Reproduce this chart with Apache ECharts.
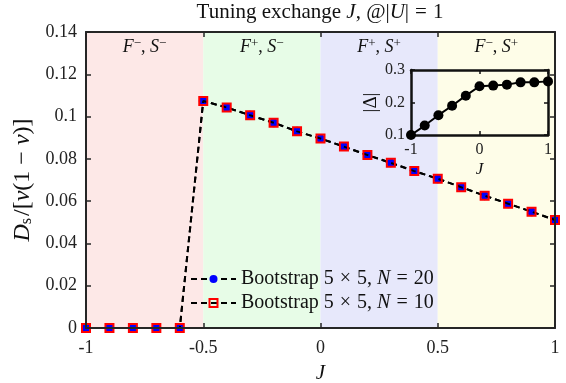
<!DOCTYPE html>
<html><head><meta charset="utf-8">
<script src="https://cdn.jsdelivr.net/npm/echarts@6/dist/echarts.min.js"></script>
<style>html,body{margin:0;padding:0;background:#fff}#c{width:566px;height:383px}</style>
</head><body><div id="c"></div>
<script>
// ---- data ----
const J = [-1,-0.9,-0.8,-0.7,-0.6,-0.5,-0.4,-0.3,-0.2,-0.1,0,0.1,0.2,0.3,0.4,0.5,0.6,0.7,0.8,0.9,1];
const Ds_N20 = [0,0,0,0,0,0.1074,0.1043,0.1006,0.0971,0.0930,0.0896,0.0858,0.0818,0.0781,0.0742,0.0706,0.0666,0.0626,0.0588,0.0550,0.0511];
const Ds_N10 = [0,0,0,0,0,0.1074,0.1043,0.1006,0.0971,0.0930,0.0896,0.0858,0.0818,0.0781,0.0742,0.0706,0.0666,0.0626,0.0588,0.0550,0.0511];
const J_inset = [-1,-0.8,-0.6,-0.4,-0.2,0,0.2,0.4,0.6,0.8,1];
const gap_inset = [0.100,0.129,0.161,0.190,0.221,0.250,0.252,0.255,0.262,0.262,0.265];
const bands = [
  {from:-1, to:-0.5, label:'{i|F}{s|−}{n|, }{i|S}{s|−}', color:'#fde8e7'},
  {from:-0.5, to:0, label:'{i|F}{s|+}{n|, }{i|S}{s|−}', color:'#e7fce7'},
  {from:0, to:0.5, label:'{i|F}{s|+}{n|, }{i|S}{s|+}', color:'#e7e8fb'},
  {from:0.5, to:1, label:'{i|F}{s|−}{n|, }{i|S}{s|+}', color:'#fefde8'}
];
const seriesNames = ['Bootstrap 5 × 5, N = 20', 'Bootstrap 5 × 5, N = 10'];
const legendText = ['{n|Bootstrap 5}{op|×}{n|5, }{i|N}{op|=}{n|20}', '{n|Bootstrap 5}{op|×}{n|5, }{i|N}{op|=}{n|10}'];

const FF = '"Liberation Serif", "DejaVu Serif", serif';
const AX = '#262626';
const pair = (xs, ys) => xs.map((x, i) => [x, ys[i]]);

function axisCommon(extra) {
  return Object.assign({
    type: 'value', z: 10,
    axisLine: {show: true, onZero: false, lineStyle: {color: AX, width: 2}},
    axisTick: {show: true, inside: true, length: 5, lineStyle: {color: AX, width: 1.5}},
    splitLine: {show: false},
    axisLabel: {color: '#222', fontFamily: FF, fontSize: 18}
  }, extra);
}
const insetLine = {show: true, onZero: false, lineStyle: {color: '#111', width: 2.5}};
const insetTick = {show: true, inside: true, length: 4, lineStyle: {color: '#111', width: 1.5}};

const chart = echarts.init(document.getElementById('c'), null, {renderer: 'canvas'});
chart.setOption({
  animation: false,
  textStyle: {fontFamily: FF},
  title: {
    text: '{n|Tuning exchange }{i|J}{n|, @|}{i|U}{n||}{op|=}{n|1}',
    left: 320, top: 2, padding: 0, textAlign: 'center',
    textStyle: {fontWeight: 'normal', rich: {
      n: {fontFamily: FF, fontSize: 21, fontWeight: 'normal', color: '#111'},
      i: {fontFamily: FF, fontSize: 21, fontWeight: 'normal', fontStyle: 'italic', color: '#111'},
      op: {fontFamily: FF, fontSize: 21, fontWeight: 'normal', color: '#111', padding: [0, 6, 0, 6]}
    }}
  },
  grid: [
    {left: 86, right: 11, top: 32, bottom: 55, outerBoundsMode: 'none', containLabel: false},
    {left: 411, right: 18, top: 70, height: 65, outerBoundsMode: 'none', containLabel: false}
  ],
  xAxis: [
    axisCommon({gridIndex: 0, min: -1, max: 1, interval: 0.5, position: 'bottom',
      axisLabel: {color: '#222', fontFamily: FF, fontSize: 18, margin: 11},
      name: 'J', nameLocation: 'middle', nameGap: 35,
      nameTextStyle: {fontFamily: FF, fontSize: 21, fontStyle: 'italic', color: '#111'}}),
    axisCommon({gridIndex: 0, min: -1, max: 1, interval: 0.5, position: 'top', axisLabel: {show: false}}),
    axisCommon({gridIndex: 1, min: -1, max: 1, interval: 1, position: 'bottom',
      axisLine: insetLine, axisTick: insetTick,
      axisLabel: {color: '#222', fontFamily: FF, fontSize: 16, margin: 7},
      name: 'J', nameLocation: 'middle', nameGap: 26,
      nameTextStyle: {fontFamily: FF, fontSize: 17, fontStyle: 'italic', color: '#111'}}),
    axisCommon({gridIndex: 1, min: -1, max: 1, interval: 1, position: 'top',
      axisLine: insetLine, axisTick: insetTick, axisLabel: {show: false}})
  ],
  yAxis: [
    axisCommon({gridIndex: 0, min: 0, max: 0.14, interval: 0.02, position: 'left',
      axisLabel: {color: '#222', fontFamily: FF, fontSize: 18, margin: 9},
      name: '{i|D}{sub|s}{n|/[}{i|ν}{n|(1}{op|−}{i|ν}{n|)]}', nameLocation: 'middle', nameGap: 48, nameRotate: 90,
      nameTextStyle: {rich: {
        n: {fontFamily: FF, fontSize: 24, color: '#111'},
        i: {fontFamily: FF, fontSize: 24, fontStyle: 'italic', color: '#111'},
        op: {fontFamily: FF, fontSize: 24, color: '#111', padding: [0, 6, 0, 6]},
        sub: {fontFamily: FF, fontSize: 16, color: '#111', verticalAlign: 'bottom', lineHeight: 16, padding: [9, 2, 0, 0]}
      }}}),
    axisCommon({gridIndex: 0, min: 0, max: 0.14, interval: 0.02, position: 'right', axisLabel: {show: false}}),
    axisCommon({gridIndex: 1, min: 0.1, max: 0.3, interval: 0.1, position: 'left',
      axisLine: insetLine, axisTick: insetTick,
      axisLabel: {color: '#222', fontFamily: FF, fontSize: 16, margin: 6},
      name: '|Δ|', nameLocation: 'middle', nameGap: 30, nameRotate: 90,
      nameTextStyle: {fontFamily: FF, fontSize: 19, color: '#111'}}),
    axisCommon({gridIndex: 1, min: 0.1, max: 0.3, interval: 0.1, position: 'right',
      axisLine: insetLine, axisTick: insetTick, axisLabel: {show: false}})
  ],
  legend: {
    orient: 'vertical', left: 190, top: 269, padding: 0, z: 12,
    itemWidth: 45, itemHeight: 10, itemGap: 4,
    data: seriesNames,
    formatter: name => legendText[seriesNames.indexOf(name)],
    textStyle: {rich: {
      n: {fontFamily: FF, fontSize: 20, color: '#111'},
      i: {fontFamily: FF, fontSize: 20, fontStyle: 'italic', color: '#111'},
      op: {fontFamily: FF, fontSize: 20, color: '#111', padding: [0, 6, 0, 6]}
    }}
  },
  series: [
    {
      name: seriesNames[0], type: 'line', xAxisIndex: 0, yAxisIndex: 0,
      data: pair(J, Ds_N20),
      symbol: 'circle', symbolSize: 9, z: 3,
      itemStyle: {color: '#0000ff', borderWidth: 0},
      lineStyle: {color: '#000', width: 2, type: [6, 4]},
      markArea: {
        silent: true,
        data: bands.map(b => [
          {xAxis: b.from, itemStyle: {color: b.color},
           label: {show: true, position: 'insideTop', distance: 5, formatter: b.label,
             rich: {
               i: {fontFamily: FF, fontSize: 18, fontStyle: 'italic', color: '#111', lineHeight: 20},
               n: {fontFamily: FF, fontSize: 18, color: '#111', lineHeight: 20},
               s: {fontFamily: FF, fontSize: 13, color: '#111', lineHeight: 13, verticalAlign: 'top'}
             }}},
          {xAxis: b.to}
        ])
      }
    },
    {
      name: seriesNames[1], type: 'line', xAxisIndex: 0, yAxisIndex: 0,
      data: pair(J, Ds_N10),
      symbol: 'rect', symbolSize: 8, z: 4,
      itemStyle: {color: 'rgba(0,0,0,0)', borderColor: '#ff0000', borderWidth: 2},
      lineStyle: {color: '#000', width: 2, type: [6, 4]}
    },
    {
      name: 'inset', type: 'line', xAxisIndex: 2, yAxisIndex: 2,
      data: pair(J_inset, gap_inset),
      symbol: 'circle', symbolSize: 10, clip: false, z: 11,
      itemStyle: {color: '#000'},
      lineStyle: {color: '#000', width: 2}
    }
  ]
});
</script></body></html>
